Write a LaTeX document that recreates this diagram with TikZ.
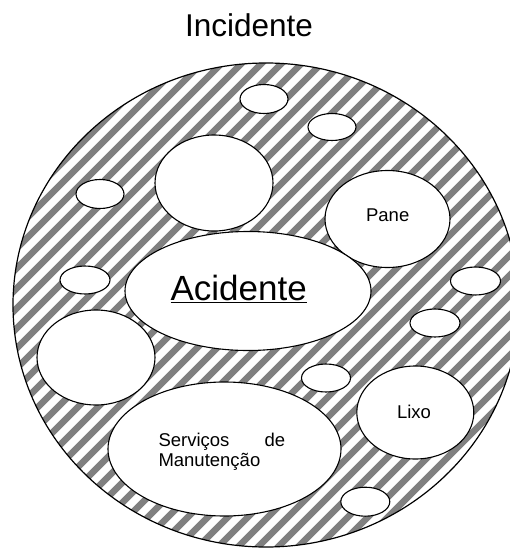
\documentclass[tikz,border=0pt]{standalone}
\usepackage{fontspec}
\setmainfont{Liberation Sans}
\usetikzlibrary{shapes.geometric}
\begin{document}
\begin{tikzpicture}[x=1pt,y=-1pt,
  bub/.style={draw=black, line width=1.1pt, fill=white, ellipse, inner sep=0pt},
  lbl/.style={font=\fontsize{18.5}{20}\selectfont, inner sep=0pt, anchor=base},
  stripe/.style={line width=6.5pt, black!50}]
\useasboundingbox (0,0) rectangle (509,549);
\node[font=\fontsize{31.5}{36}\selectfont, anchor=base, inner sep=0pt] (title) at (249,36) {Incidente};
\coordinate (oc) at (266,305);
\begin{scope}
  \clip (oc) ellipse [x radius=253, y radius=242];
  \foreach \k in {0,...,60} { \draw[stripe] (\k*20+5, 0) -- ++(-600, 600); }
\end{scope}
\draw[line width=1.2pt] (oc) ellipse [x radius=253, y radius=242];
% bubbles
\node[bub, minimum width=48pt, minimum height=29pt] (s1) at (264,99) {};
\node[bub, minimum width=48pt, minimum height=27pt] (s2) at (332,127) {};
\node[bub, minimum width=118pt, minimum height=96pt] (b1) at (214,183) {};
\node[bub, minimum width=48pt, minimum height=29pt] (s3) at (100,194) {};
\node[bub, minimum width=125pt, minimum height=97pt] (pane) at (387.5,219) {};
\node[bub, minimum width=246pt, minimum height=119pt] (acid) at (248,291) {};
\node[bub, minimum width=50pt, minimum height=28pt] (s4) at (85,280) {};
\node[bub, minimum width=50pt, minimum height=28pt] (s5) at (475.5,281) {};
\node[bub, minimum width=50pt, minimum height=28pt] (s6) at (435,323) {};
\node[bub, minimum width=118pt, minimum height=95pt] (b2) at (96,357.5) {};
\node[bub, minimum width=49pt, minimum height=28pt] (s7) at (326,378) {};
\node[bub, minimum width=117pt, minimum height=93pt] (lixo) at (415.3,412.5) {};
\node[bub, minimum width=233pt, minimum height=134pt] (serv) at (224.5,449) {};
\node[bub, minimum width=49pt, minimum height=29pt] (s8) at (365.3,501.7) {};
% labels
\node[lbl] (tpane) at (387.7,221.7) {Pane};
\node[lbl] (tlixo) at (414,418) {Lixo};
\node[font=\fontsize{35}{40}\selectfont, inner sep=0pt, anchor=base] (tacid) at (238.7,300) {\underline{Acidente}};
\node[lbl, anchor=base west] (tserv) at (158.3,446) {\vtop{\hbox to 126.7pt{Serviços\hfill de}\hbox{Manutenção}}};
\end{tikzpicture}
\end{document}
